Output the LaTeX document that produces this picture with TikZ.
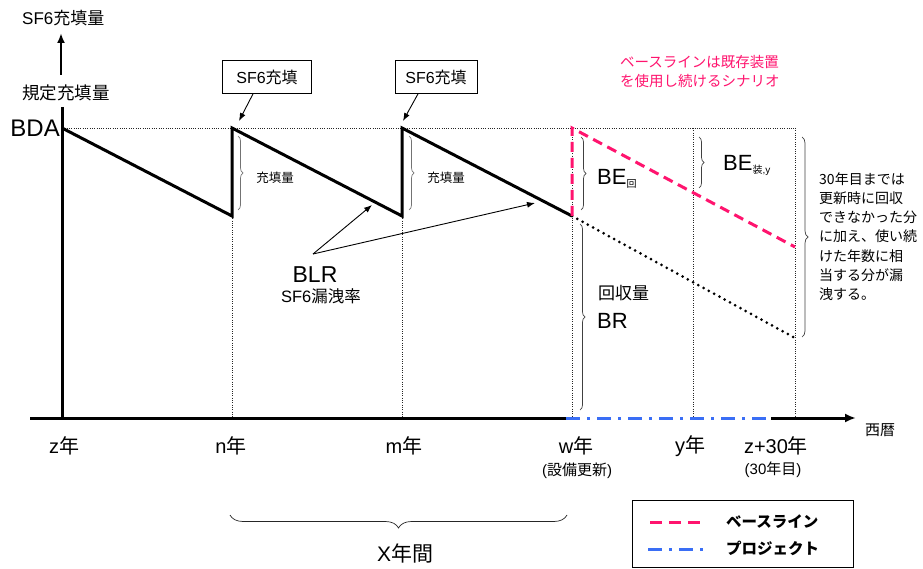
\documentclass[tikz,border=0pt]{standalone}
\usepackage{fontspec}
\setmainfont{Liberation Sans}
\newfontfamily\jpf{Noto Sans CJK JP}
\usetikzlibrary{arrows.meta,decorations.pathreplacing}
\definecolor{bpink}{RGB}{255,20,110}
\definecolor{pblue}{RGB}{58,110,245}
\newcommand{\fs}[1]{\fontsize{#1}{#1}\selectfont}
\begin{document}
\begin{tikzpicture}[x=1pt,y=-1pt,
  saw/.style={line width=3pt,line join=miter},
  axisline/.style={line width=3pt},
  guide/.style={line width=0.7pt,dash pattern=on 1pt off 1.3pt,black!85},
  brdot/.style={line width=3pt,dash pattern=on 0pt off 6pt,line cap=round},
  basel/.style={bpink,line width=3pt,dash pattern=on 10pt off 6pt},
  proj/.style={pblue,line width=3pt,dash pattern=on 14pt off 7pt on 3pt off 7pt},
  brc/.style={decorate,decoration={brace,amplitude=5pt},line width=0.7pt,black!75},
  arr/.style={-{Latex[length=8pt,width=6pt]},line width=0.9pt},
  lbl/.style={inner sep=0pt}]
\useasboundingbox (0,0) rectangle (923,569);

% key points
\coordinate (O) at (62,418);
\coordinate (A0) at (62,128);
\coordinate (N1) at (232,216); \coordinate (N2) at (232,128);
\coordinate (M1) at (402,216); \coordinate (M2) at (402,128);
\coordinate (W1) at (572,216); \coordinate (W2) at (572,128);
\coordinate (E1) at (795,247); \coordinate (E2) at (795,338);
\coordinate (Y0) at (693,128); \coordinate (Yb) at (693,418);
\coordinate (Z0) at (795,128); \coordinate (Zb) at (795,418);
\coordinate (Nb) at (232,418); \coordinate (Mb) at (402,418); \coordinate (Wb) at (572,418);
\coordinate (Xs) at (30,418); \coordinate (Ps) at (566,418);
\coordinate (Pe) at (771,418); \coordinate (Xe) at (856,418);

% guides
\draw[guide] (A0) -- (Z0);
\draw[guide] (N1) -- (Nb);
\draw[guide] (M1) -- (Mb);
\draw[guide] (W2) -- (Wb);
\draw[guide] (Y0) -- (Yb);
\draw[guide] (Z0) -- (Zb);

% curves
\draw[brdot] (W1) -- (E2);
\draw[saw] (A0) -- (N1) -- (N2) -- (M1) -- (M2) -- (W1);
\draw[basel] (W1) -- (W2) -- (E1);

% axes
\draw[axisline] (62,107) -- (O);
\draw[line width=2.5pt,-{Latex[length=10pt,width=8pt]}] (61,75) -- (61,33);
\draw[axisline] (Xs) -- (Ps);
\draw[proj] (Ps) -- (Pe);
\draw[axisline,-{Latex[length=11pt,width=9pt]}] (Pe) -- (Xe);

% y-axis labels
\node[lbl,anchor=west] (yl) at (22,18) {\fs{17}SF6\jpf 充填量};
\node[lbl,anchor=west] (yd) at (22,93) {\fs{17.5}\jpf 規定充填量};
\node[lbl,anchor=east] (bda) at (60,128) {\fs{24}BDA};

% SF6 boxes
\node[draw,line width=0.8pt,minimum width=89pt,minimum height=33pt,inner sep=0pt] (box1) at (267,77) {\fs{16}SF6\jpf 充填};
\node[draw,line width=0.8pt,minimum width=82pt,minimum height=33pt,inner sep=0pt] (box2) at (436,77) {\fs{16}SF6\jpf 充填};
\coordinate (t1) at (239,121);
\coordinate (t2) at (403,121);
\draw[arr] ([xshift=-14pt]box1.south) -- (t1);
\draw[arr] ([xshift=-18pt]box2.south) -- (t2);

% small braces
\draw[brc,black!55] (238,136) -- (238,210);
\node[lbl] (f1) at (275,178) {\fs{12.5}\jpf 充填量};
\draw[brc,black!55] (409,136) -- (409,210);
\node[lbl] (f2) at (446,178) {\fs{12.5}\jpf 充填量};

% BLR
\node[lbl] (blr) at (315,275) {\fs{23}BLR};
\node[lbl] (blrj) at (321,296) {\fs{16.5}SF6\jpf 漏洩率};
\coordinate (bs) at (313,254);
\coordinate (b1) at (372,205);
\coordinate (b2) at (535,203);
\draw[arr] (bs) -- (b1);
\draw[arr] (bs) -- (b2);

% baseline note
\node[lbl,anchor=north west,align=left,text=bpink,font=\fs{14.5}\jpf] (note) at (620,55)
  {ベースラインは既存装置\\[4.5pt]を使用し続けるシナリオ};

% right braces and labels
\draw[brc] (581,137) -- (581,210);
\node[lbl,anchor=base west] (be1) at (597,185) {\fs{22}BE\raisebox{-3pt}{\fs{10}\jpf 回}};
\draw[brc] (699,137) -- (699,188);
\node[lbl,anchor=base west] (be2) at (723,171) {\fs{22}BE\raisebox{-3pt}{\fs{10}{\jpf 装},y}};
\draw[brc] (580,224) -- (580,410);
\node[lbl,anchor=west] (rq) at (598,293) {\fs{17}\jpf 回収量};
\node[lbl,anchor=base west] (br) at (597,328) {\fs{22}BR};
\draw[brc,decoration={brace,amplitude=6pt}] (802,137) -- (802,337);
\node[lbl,anchor=north west,align=left,font=\fs{14}\jpf] (expl) at (819,172)
  {30年目までは\\[5.3pt]更新時に回収\\[5.3pt]できなかった分\\[5.3pt]に加え、使い続\\[5.3pt]けた年数に相\\[5.3pt]当する分が漏\\[5.3pt]洩する。};

% x-axis labels
\node[lbl] (xz) at (64,446) {\fs{20}z\jpf 年};
\node[lbl] (xn) at (231,446) {\fs{20}n\jpf 年};
\node[lbl] (xm) at (404,446) {\fs{20}m\jpf 年};
\node[lbl] (xw) at (576,446) {\fs{20}w\jpf 年};
\node[lbl] (xw2) at (577,471) {\fs{15}(\jpf 設備更新\rmfamily)};
\node[lbl] (xy) at (690,446) {\fs{20}y\jpf 年};
\node[lbl] (xz30) at (776,446) {\fs{20}z+30\jpf 年};
\node[lbl] (xz30b) at (773,470) {\fs{15}(30\jpf 年目\rmfamily)};
\node[lbl,anchor=west] (xl) at (865,430) {\fs{15}\jpf 西暦};

% X years brace
\draw[brc,black!85,decoration={brace,amplitude=13pt}] (567,515) -- (230,515);
\node[lbl] (xyrs) at (405,553) {\fs{21}X\jpf 年間};

% legend
\node[draw,line width=1pt,minimum width=221pt,minimum height=67pt,inner sep=0pt] (leg) at (742.5,533.5) {};
\draw[bpink,line width=3pt,dash pattern=on 12pt off 7pt] (650,522) -- (704,522);
\draw[pblue,line width=3pt,dash pattern=on 14pt off 7pt on 3pt off 7pt] (648,549) -- (706,549);
\node[lbl,anchor=west] (lg1) at (726,522) {\fs{15.5}\jpf\bfseries ベースライン};
\node[lbl,anchor=west] (lg2) at (726,548) {\fs{15.5}\jpf\bfseries プロジェクト};
\end{tikzpicture}
\end{document}
